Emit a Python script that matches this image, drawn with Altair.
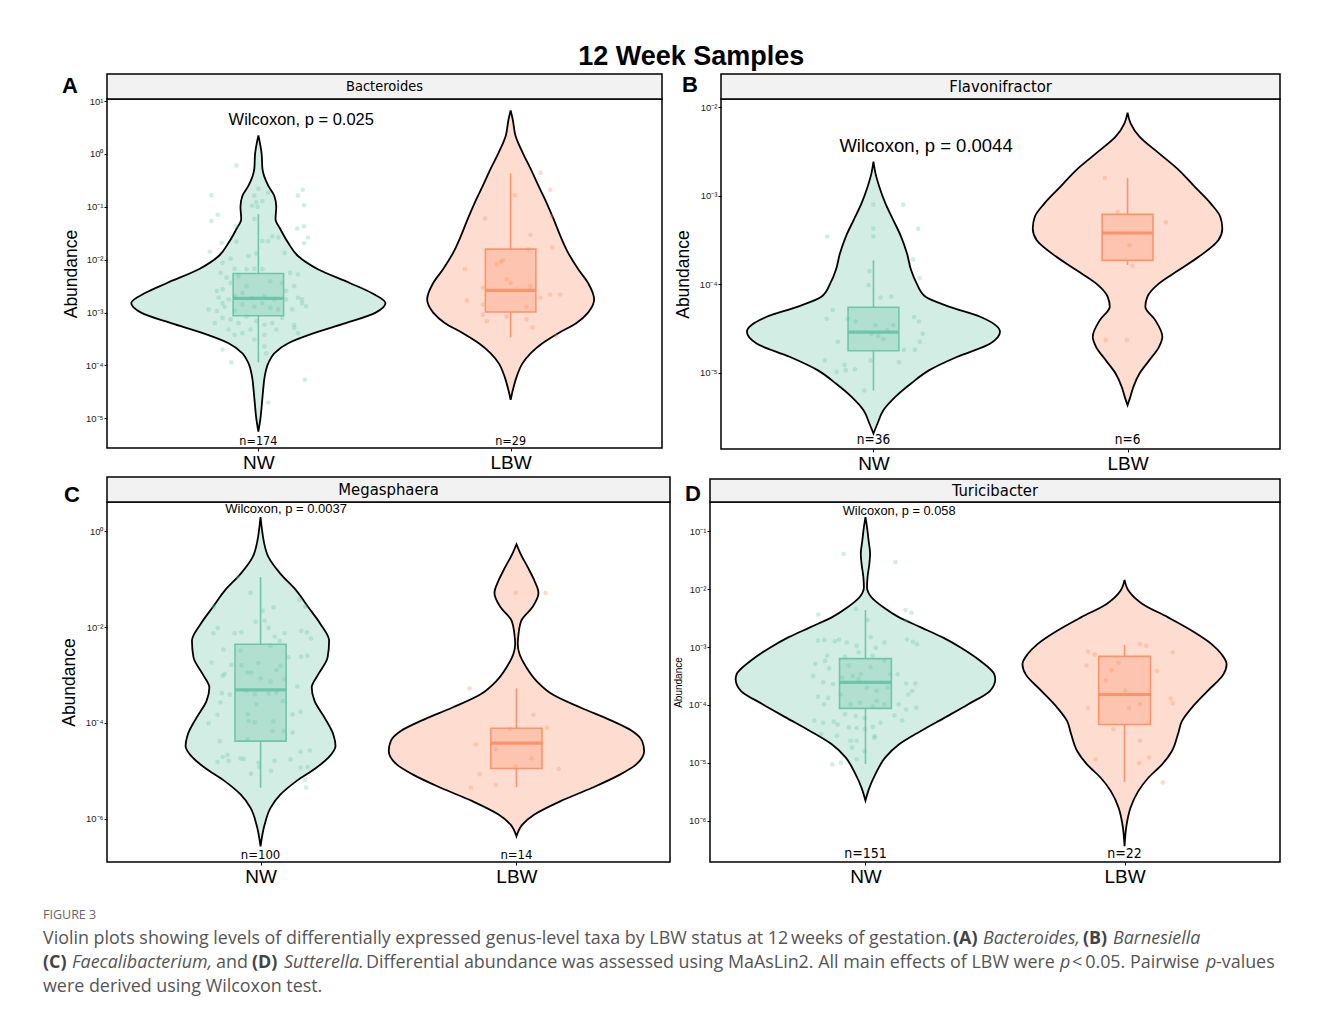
import altair as alt
import pandas as pd

# ------------------------------------------------------------------ data
TITLE = "12 Week Samples"
GROUPS = ["NW", "LBW"]
CENTER = {"NW": 1, "LBW": 2}
COLORS = ["#66c2a5", "#fc8d62"]

TAXA = {"A": "Bacteroides", "B": "Flavonifractor", "C": "Megasphaera", "D": "Turicibacter"}
PVALS = {"A": "Wilcoxon, p = 0.025", "B": "Wilcoxon, p = 0.0044",
         "C": "Wilcoxon, p = 0.0037", "D": "Wilcoxon, p = 0.058"}
PVAL_POS = {"A": (1.17, 0.633), "B": (1.207, -2.437), "C": (1.10, 0.467), "D": (1.13, -0.653)}
NLABELS = {"A": ["n=174", "n=29"], "B": ["n=36", "n=6"], "C": ["n=100", "n=14"], "D": ["n=151", "n=22"]}
NLAB_LOG = {"A": -5.42, "B": -5.76, "C": -6.746, "D": -6.578}
YDOM_LOG = {"A": (-5.56, 1.038), "B": (-5.861, -1.906), "C": (-6.899, 0.606), "D": (-6.717, -0.491)}
YTICK_EXP = {"A": [-5, -4, -3, -2, -1, 0, 1], "B": [-5, -4, -3, -2], "C": [-6, -4, -2, 0],
             "D": [-6, -5, -4, -3, -2, -1]}

# violin outlines: log10(abundance) levels and half-widths (x units)
A_NW_VLOG = [0.35, 0.0, -0.28, -0.60, -0.79, -1.0, -1.23, -1.42, -1.68, -1.93, -2.18, -2.44, -2.63, -2.82, -3.0,
             -3.2, -3.39, -3.58, -3.77, -3.96, -4.21, -4.46, -4.72, -4.97, -5.25]
A_NW_VHW = [0, 0.013, 0.016, 0.039, 0.063, 0.071, 0.068, 0.087, 0.118, 0.157, 0.236, 0.362, 0.449, 0.504, 0.465,
            0.346, 0.22, 0.118, 0.063, 0.039, 0.025, 0.019, 0.014, 0.009, 0]
A_LBW_VLOG = [0.82, 0.66, 0.35, 0.03, -0.28, -0.60, -0.92, -1.23, -1.55, -1.87, -2.18, -2.44, -2.75, -3.0, -3.2,
              -3.39, -3.58, -3.77, -3.96, -4.21, -4.46, -4.65]
A_LBW_VHW = [0, 0.008, 0.019, 0.047, 0.079, 0.110, 0.142, 0.170, 0.197, 0.228, 0.268, 0.307, 0.331, 0.307, 0.260,
             0.189, 0.126, 0.079, 0.047, 0.024, 0.009, 0]
B_NW_VLOG = [-2.614, -2.746, -2.897, -3.086, -3.274, -3.463, -3.651, -3.839, -3.99, -4.141, -4.254, -4.367, -4.537,
             -4.669, -4.819, -4.970, -5.121, -5.272, -5.423, -5.573, -5.686]
B_NW_VHW = [0, 0.008, 0.023, 0.047, 0.078, 0.109, 0.132, 0.148, 0.17, 0.205, 0.30, 0.42, 0.498, 0.46, 0.33, 0.22,
            0.148, 0.086, 0.039, 0.016, 0]
B_LBW_VLOG = [-2.060, -2.181, -2.332, -2.520, -2.709, -2.897, -3.086, -3.236, -3.368, -3.500, -3.689, -3.839,
              -3.990, -4.141, -4.254, -4.405, -4.593, -4.706, -4.857, -5.008, -5.159, -5.272, -5.366]
B_LBW_VHW = [0, 0.012, 0.047, 0.124, 0.202, 0.264, 0.327, 0.365, 0.373, 0.358, 0.280, 0.202, 0.124, 0.078, 0.070,
             0.109, 0.137, 0.124, 0.086, 0.047, 0.023, 0.011, 0]
C_NW_VLOG = [0.293, 0.014, -0.195, -0.544, -0.892, -1.240, -1.589, -1.937, -2.286, -2.634, -2.983, -3.261, -3.540,
             -3.889, -4.237, -4.481, -4.725, -4.934, -5.213, -5.491, -5.770, -6.118, -6.571]
C_NW_VHW = [0, 0.006, 0.012, 0.031, 0.078, 0.140, 0.187, 0.234, 0.268, 0.262, 0.226, 0.200, 0.211, 0.250, 0.284,
            0.293, 0.265, 0.218, 0.140, 0.078, 0.039, 0.016, 0]
C_LBW_VLOG = [-0.279, -0.474, -0.753, -1.031, -1.289, -1.589, -1.868, -2.146, -2.355, -2.564, -2.843, -3.122,
              -3.401, -3.679, -3.958, -4.167, -4.376, -4.585, -4.864, -5.073, -5.352, -5.631, -5.909, -6.118, -6.362]
C_LBW_VHW = [0, 0.016, 0.044, 0.070, 0.086, 0.062, 0.019, 0.008, 0.005, 0.012, 0.039, 0.078, 0.140, 0.250, 0.374,
             0.452, 0.491, 0.499, 0.468, 0.406, 0.296, 0.172, 0.070, 0.023, 0]
D_NW_VLOG = [-0.751, -0.925, -1.156, -1.387, -1.561, -1.792, -1.965, -2.139, -2.312, -2.486, -2.659, -2.832, -3.006,
             -3.237, -3.468, -3.555, -3.757, -3.988, -4.220, -4.451, -4.682, -4.913, -5.202, -5.434, -5.653]
D_NW_VHW = [0, 0.006, 0.012, 0.018, 0.015, 0.008, 0.006, 0.023, 0.069, 0.130, 0.214, 0.298, 0.367, 0.443, 0.497,
            0.501, 0.481, 0.397, 0.306, 0.214, 0.130, 0.076, 0.038, 0.015, 0]
D_LBW_VLOG = [-1.838, -2.023, -2.254, -2.486, -2.717, -2.948, -3.121, -3.295, -3.468, -3.757, -4.046, -4.277,
              -4.509, -4.798, -5.029, -5.260, -5.491, -5.780, -6.069, -6.445]
D_LBW_VHW = [0, 0.015, 0.069, 0.168, 0.260, 0.336, 0.374, 0.394, 0.382, 0.321, 0.260, 0.222, 0.206, 0.183, 0.145,
             0.092, 0.053, 0.023, 0.008, 0]

# box summaries (log10): whisker low, q1, median, q3, whisker high
A_NW_BOX = [-3.94, -3.06, -2.73, -2.26, -1.14]
A_LBW_BOX = [-3.47, -2.99, -2.58, -1.80, -0.37]
B_NW_BOX = [-5.20, -4.75, -4.54, -4.26, -3.73]
B_LBW_BOX = [-3.78, -3.73, -3.42, -3.21, -2.80]
C_NW_BOX = [-5.35, -4.38, -3.31, -2.36, -0.96]
C_LBW_BOX = [-5.34, -4.95, -4.42, -4.11, -3.28]
D_NW_BOX = [-5.02, -4.06, -3.61, -3.20, -2.36]
D_LBW_BOX = [-5.33, -4.34, -3.82, -3.16, -2.96]

# jittered samples: (jitter offset in x units, log10 abundance)
A_NW_PTS = [(-0.087, -0.22), (-0.186, -0.78), (-0.161, -1.15), (-0.186, -1.27), (0.0, -0.66), (-0.016, -0.79),
            (-0.008, -0.91), (-0.024, -0.98), (0.016, -0.89), (-0.003, -1.0), (0.039, -0.73), (0.157, -0.79),
            (0.176, -0.68), (0.181, -0.97), (0.154, -1.41), (0.181, -1.37), (0.197, -1.58), (0.181, -1.69),
            (-0.145, -1.68), (-0.087, -1.66), (-0.192, -1.85), (0.016, -1.65), (0.039, -1.65), (0.055, -1.56),
            (0.079, -1.58), (0.104, -1.87), (-0.142, -2.06), (-0.110, -1.98), (-0.008, -1.88), (-0.094, -2.17),
            (-0.047, -2.18), (-0.016, -2.17), (-0.150, -2.25), (-0.126, -2.34), (-0.079, -2.31), (0.016, -2.18),
            (0.126, -2.25), (0.157, -2.28), (-0.165, -2.59), (-0.142, -2.56), (-0.110, -2.44), (-0.047, -2.50),
            (0.047, -2.41), (0.094, -2.44), (0.142, -2.50), (0.110, -2.59), (-0.157, -2.72), (-0.142, -2.82),
            (-0.118, -2.75), (-0.094, -2.69), (-0.063, -2.63), (-0.024, -2.72), (0.024, -2.69), (0.063, -2.75),
            (0.110, -2.75), (0.157, -2.72), (0.173, -2.75), (0.189, -2.88), (-0.197, -2.94), (-0.165, -2.97),
            (-0.134, -2.89), (-0.094, -2.96), (-0.063, -2.85), (-0.016, -2.89), (0.016, -2.82), (0.047, -2.91),
            (0.079, -2.94), (0.134, -2.94), (0.173, -2.82), (-0.173, -3.20), (-0.142, -3.10), (-0.110, -3.13),
            (-0.079, -3.20), (-0.047, -3.07), (-0.008, -3.16), (0.024, -3.23), (0.055, -3.20), (0.094, -3.10),
            (0.142, -3.23), (0.157, -3.39), (-0.118, -3.32), (-0.094, -3.42), (-0.063, -3.39), (-0.031, -3.32),
            (0.024, -3.42), (0.071, -3.32), (0.142, -3.29), (-0.142, -3.70), (-0.016, -3.51), (0.024, -3.64),
            (0.031, -3.77), (-0.107, -3.94), (0.184, -4.27), (0.039, -4.70), (-0.087, -1.36), (-0.016, -1.23),
            (-0.039, -1.93)]
A_LBW_PTS = [(0.118, -0.36), (0.157, -0.68), (0.016, -0.78), (-0.102, -1.22), (0.162, -1.18), (0.079, -1.53),
             (0.165, -1.77), (-0.039, -2.04), (-0.031, -2.01), (-0.181, -2.18), (-0.016, -2.37), (-0.110, -2.53),
             (0.079, -2.50), (0.0, -2.44), (0.118, -2.72), (0.157, -2.66), (0.197, -2.66), (-0.173, -2.77),
             (-0.110, -2.85), (0.063, -2.89), (-0.110, -3.04), (-0.094, -3.16), (-0.016, -3.08), (0.063, -3.13),
             (0.087, -3.28), (0.181, -3.45), (-0.055, -2.09), (0.071, -1.80)]
B_NW_PTS = [(0.0, -3.10), (0.117, -3.10), (0.0, -3.37), (0.176, -3.37), (-0.182, -3.46), (0.0, -3.46),
            (0.156, -3.72), (-0.016, -3.85), (0.182, -3.93), (-0.019, -4.01), (0.028, -4.15), (0.070, -4.14),
            (-0.160, -4.29), (-0.184, -4.39), (-0.101, -4.39), (-0.070, -4.42), (0.008, -4.46), (0.078, -4.46),
            (0.160, -4.37), (0.179, -4.42), (-0.140, -4.65), (-0.008, -4.56), (0.039, -4.62), (0.054, -4.52),
            (0.019, -4.58), (0.194, -4.56), (0.182, -4.65), (-0.191, -4.86), (-0.114, -4.91), (-0.145, -4.99),
            (-0.109, -4.97), (-0.073, -4.96), (-0.011, -4.86), (0.101, -4.88), (0.120, -4.74), (0.163, -4.74),
            (-0.036, -5.20)]
B_LBW_PTS = [(-0.089, -2.80), (-0.039, -3.18), (0.151, -3.30), (0.008, -3.56), (0.019, -3.79), (-0.086, -4.63),
             (-0.003, -4.63)]
C_NW_PTS = [(-0.089, -0.96), (-0.039, -1.29), (-0.183, -1.57), (0.153, -1.43), (0.175, -1.57), (0.008, -1.66),
            (0.051, -1.59), (-0.167, -2.02), (-0.184, -2.13), (-0.101, -2.13), (-0.075, -2.11), (-0.019, -1.89),
            (0.016, -1.87), (0.031, -2.02), (0.056, -2.20), (0.075, -2.29), (0.094, -2.13), (0.159, -2.08),
            (0.181, -2.11), (0.197, -2.24), (-0.145, -2.47), (-0.078, -2.49), (0.039, -2.39), (0.109, -2.63),
            (0.183, -2.60), (0.159, -2.62), (-0.192, -2.74), (-0.114, -2.79), (-0.075, -2.80), (-0.009, -2.75),
            (0.062, -2.90), (0.078, -2.81), (-0.140, -2.98), (-0.148, -3.02), (-0.051, -2.95), (-0.036, -2.95),
            (0.0, -3.07), (0.039, -3.14), (0.094, -3.09), (0.144, -3.24), (-0.151, -3.38), (-0.120, -3.41),
            (-0.055, -3.33), (-0.023, -3.40), (0.031, -3.39), (0.062, -3.37), (-0.156, -3.57), (-0.016, -3.61),
            (0.087, -3.54), (0.156, -3.77), (-0.168, -3.83), (-0.050, -3.82), (-0.047, -3.96), (-0.023, -3.99),
            (0.050, -3.97), (0.125, -3.82), (0.090, -4.17), (-0.203, -4.01), (-0.159, -4.38), (-0.051, -4.34),
            (0.047, -4.17), (0.125, -4.20), (-0.129, -4.67), (-0.148, -4.71), (-0.078, -4.74), (-0.008, -4.83),
            (0.055, -4.79), (0.117, -4.76), (0.156, -4.60), (0.193, -4.57), (-0.168, -4.81), (-0.125, -4.79),
            (-0.066, -4.75), (-0.005, -4.92), (0.041, -5.00), (-0.037, -5.06), (0.156, -4.93), (0.184, -4.92),
            (0.175, -5.18), (0.178, -5.35)]
C_LBW_PTS = [(-0.003, -1.29), (0.114, -1.29), (-0.183, -3.28), (0.066, -3.83), (0.119, -4.10), (-0.025, -4.13),
             (-0.159, -4.45), (-0.081, -4.55), (0.059, -4.74), (-0.003, -4.91), (0.165, -4.96), (-0.144, -5.07),
             (-0.081, -5.29), (-0.178, -5.35)]
D_NW_PTS = [(-0.084, -1.39), (0.116, -1.53), (-0.182, -2.44), (-0.037, -2.34), (0.154, -2.36), (0.177, -2.41),
            (0.008, -2.53), (0.157, -2.54), (-0.183, -2.89), (-0.159, -2.88), (-0.118, -2.90), (-0.102, -2.87),
            (-0.072, -2.92), (-0.034, -2.98), (0.020, -2.83), (0.040, -3.01), (0.073, -2.92), (0.160, -2.87),
            (0.199, -2.95), (0.183, -2.91), (-0.148, -3.15), (-0.079, -3.17), (-0.026, -3.09), (0.028, -3.15),
            (0.073, -3.24), (-0.194, -3.29), (-0.156, -3.24), (-0.141, -3.37), (-0.064, -3.32), (-0.018, -3.47),
            (0.020, -3.35), (0.096, -3.47), (0.124, -3.47), (-0.202, -3.50), (-0.163, -3.61), (-0.125, -3.64),
            (-0.090, -3.53), (-0.049, -3.50), (-0.026, -3.55), (0.005, -3.70), (0.043, -3.76), (0.086, -3.70),
            (0.157, -3.63), (0.193, -3.63), (-0.183, -3.86), (-0.144, -3.88), (-0.095, -3.82), (-0.057, -3.99),
            (-0.021, -3.96), (0.043, -3.93), (0.073, -3.99), (0.165, -3.82), (0.180, -3.76), (-0.160, -3.99),
            (0.028, -4.03), (0.128, -3.99), (0.196, -4.05), (-0.197, -4.27), (-0.163, -4.31), (-0.122, -4.29),
            (-0.079, -4.16), (-0.038, -4.19), (-0.003, -4.23), (0.058, -4.31), (0.112, -4.18), (0.142, -4.27),
            (0.157, -4.08), (-0.107, -4.34), (-0.064, -4.39), (-0.034, -4.40), (0.028, -4.38), (-0.171, -4.51),
            (-0.110, -4.53), (-0.003, -4.42), (0.035, -4.54), (-0.057, -4.62), (-0.052, -4.74), (-0.034, -4.62),
            (-0.128, -5.03), (-0.095, -5.00), (-0.034, -4.94), (-0.003, -4.80), (0.035, -4.57)]
D_LBW_PTS = [(-0.141, -3.08), (-0.115, -3.13), (0.186, -3.09), (0.060, -2.95), (0.084, -2.98), (-0.023, -3.27),
             (-0.147, -3.32), (-0.050, -3.40), (0.125, -3.41), (0.003, -3.75), (0.179, -3.89), (0.186, -3.97),
             (-0.141, -4.05), (0.060, -3.99), (-0.043, -4.42), (0.060, -4.62), (-0.112, -4.94), (0.095, -4.91),
             (0.057, -5.01), (0.148, -5.34), (-0.073, -3.58), (0.018, -4.05)]

# caption: (line, text, style)
CAPTION_HEAD = "FIGURE 3"
CAPTION_SEGMENTS = [
    (1, "Violin plots showing levels of differentially expressed genus-level taxa by LBW status at 12\u2009weeks of gestation.", "normal"),
    (1, "(A)", "bold"), (1, "Bacteroides,", "italic"), (1, "(B)", "bold"), (1, "Barnesiella", "italic"),
    (2, "(C)", "bold"), (2, "Faecalibacterium,", "italic"), (2, "and", "normal"), (2, "(D)", "bold"),
    (2, "Sutterella.", "italic"),
    (2, "Differential abundance was assessed using MaAsLin2. All main effects of LBW were", "normal"),
    (2, "p", "italic"), (2, "<\u20090.05. Pairwise", "normal"), (2, "p", "italic"), (2, "-values", "normal"),
    (3, "were derived using Wilcoxon test.", "normal"),
]

VIOLINS = {
    "A": {"NW": (A_NW_VLOG, A_NW_VHW), "LBW": (A_LBW_VLOG, A_LBW_VHW)},
    "B": {"NW": (B_NW_VLOG, B_NW_VHW), "LBW": (B_LBW_VLOG, B_LBW_VHW)},
    "C": {"NW": (C_NW_VLOG, C_NW_VHW), "LBW": (C_LBW_VLOG, C_LBW_VHW)},
    "D": {"NW": (D_NW_VLOG, D_NW_VHW), "LBW": (D_LBW_VLOG, D_LBW_VHW)},
}
BOXES = {"A": {"NW": A_NW_BOX, "LBW": A_LBW_BOX}, "B": {"NW": B_NW_BOX, "LBW": B_LBW_BOX},
         "C": {"NW": C_NW_BOX, "LBW": C_LBW_BOX}, "D": {"NW": D_NW_BOX, "LBW": D_LBW_BOX}}
POINTS = {"A": {"NW": A_NW_PTS, "LBW": A_LBW_PTS}, "B": {"NW": B_NW_PTS, "LBW": B_LBW_PTS},
          "C": {"NW": C_NW_PTS, "LBW": C_LBW_PTS}, "D": {"NW": D_NW_PTS, "LBW": D_LBW_PTS}}

# ------------------------------------------------------------------ layout / style
FONT = "Liberation Sans, Arial, Helvetica, sans-serif"
NARROW = "Liberation Sans Narrow, Arial Narrow, DejaVu Sans Condensed, sans-serif"
CAPFONT = "Open Sans, Noto Sans, sans-serif"
BOX_HALF = 0.1
# x offset (px) of each caption segment from the caption view's left edge
CAP_X = [-64, 846, 876, 976, 1006, -64, -35, 109, 145, 177, 259, 953, 965, 1099, 1109, -64]

LAYOUT = {
    "A": dict(w=555, h=349, hh=25, ext=63, tx=-27, tfs=17.5, lx=-45, ly=-6, wfs=16.5, nfs=12.5, sfs=14.5),
    "B": dict(w=559, h=350, hh=25, ext=45, tx=-29, tfs=17.5, lx=-39, ly=-7, wfs=18.5, nfs=13.5, sfs=16.5),
    "C": dict(w=563, h=360, hh=25, ext=63, tx=-29, tfs=17.5, lx=-43, ly=0, wfs=13, nfs=13, sfs=16.5),
    "D": dict(w=570, h=360, hh=23, ext=36, tx=-27, tfs=10, lx=-25, ly=-1, wfs=12.8, nfs=14, sfs=16.5),
}

SUP = ("'10' + replace(replace(replace(replace(replace(replace(replace(replace("
       "toString(round(log(datum.value)/LN10)), '-', '\u207b'), '0', '\u2070'), '1', '\u00b9'), '2', '\u00b2'), "
       "'3', '\u00b3'), '4', '\u2074'), '5', '\u2075'), '6', '\u2076')")

color_scale = alt.Scale(domain=GROUPS, range=COLORS)


def panel(key):
    L = LAYOUT[key]
    W, H = L["w"], L["h"]
    lo, hi = YDOM_LOG[key]
    yscale = alt.Scale(type="log", domain=[10 ** lo, 10 ** hi], nice=False)
    xscale = alt.Scale(domain=[0.4, 2.6], nice=False, zero=False)
    xaxis = alt.Axis(values=[1, 2], labelExpr="datum.value == 1 ? 'NW' : 'LBW'", title=None, grid=False,
                     domain=False, labelFontSize=19, labelFont=FONT, labelColor="black", tickColor="black",
                     tickSize=3, labelPadding=2, minExtent=24, maxExtent=24)
    yaxis = alt.Axis(values=[10.0 ** e for e in YTICK_EXP[key]], labelExpr=SUP, title="Abundance", grid=False,
                     domain=False, labelFontSize=9.5, labelFont=FONT, labelColor="#222222", tickColor="black",
                     tickSize=3, labelPadding=1, titleFont=FONT, titleFontSize=L["tfs"], titleFontWeight="normal",
                     titleColor="black", titleX=L["tx"], titleY=H / 2, minExtent=L["ext"], maxExtent=L["ext"])

    def X(f):
        return alt.X(f, type="quantitative", scale=xscale, axis=xaxis)

    def Y(f):
        return alt.Y(f, type="quantitative", scale=yscale, axis=yaxis)

    vrows, brows, prows = [], [], []
    for g in GROUPS:
        c = CENTER[g]
        lgs, hws = VIOLINS[key][g]
        for lg, hw in zip(lgs, hws):
            vrows.append(dict(group=g, val=10 ** lg, x1=c - hw, x2=c + hw))
        b = BOXES[key][g]
        brows.append(dict(group=g, lov=10 ** b[0], q1v=10 ** b[1], medv=10 ** b[2], q3v=10 ** b[3],
                          hiv=10 ** b[4], xc=c, xl=c - BOX_HALF, xr=c + BOX_HALF))
        for dx, lg in POINTS[key][g]:
            prows.append(dict(group=g, val=10 ** lg, xj=c + dx))
    vdf, bdf, pdf = pd.DataFrame(vrows), pd.DataFrame(brows), pd.DataFrame(prows)

    fill = alt.Color("group:N", scale=color_scale, legend=None)
    stroke = alt.Stroke("group:N", scale=color_scale, legend=None)

    violin = alt.Chart(vdf).mark_area(orient="horizontal", interpolate="monotone", stroke="black",
                                      strokeWidth=1.8, fillOpacity=0.3).encode(
        y=Y("val"), x=X("x1"), x2="x2", color=fill)
    box = alt.Chart(bdf).mark_rect(fillOpacity=0.3, strokeWidth=1.6, strokeOpacity=0.9).encode(
        x=X("xl"), x2="xr", y=Y("q1v"), y2="q3v", color=fill, stroke=stroke)
    whisk_hi = alt.Chart(bdf).mark_rule(strokeWidth=1.6, opacity=0.9).encode(
        x=X("xc"), y=Y("q3v"), y2="hiv", color=fill)
    whisk_lo = alt.Chart(bdf).mark_rule(strokeWidth=1.6, opacity=0.9).encode(
        x=X("xc"), y=Y("lov"), y2="q1v", color=fill)
    median = alt.Chart(bdf).mark_rule(strokeWidth=3.2, opacity=0.9).encode(
        x=X("xl"), x2="xr", y=Y("medv"), color=fill)
    pts = alt.Chart(pdf).mark_circle(size=22, opacity=0.3).encode(x=X("xj"), y=Y("val"), color=fill)

    px, plg = PVAL_POS[key]
    wdf = pd.DataFrame({"x": [px], "val": [10 ** plg], "label": [PVALS[key]]})
    wil = alt.Chart(wdf).mark_text(font=FONT, fontSize=L["wfs"], color="black", baseline="middle").encode(
        x=X("x"), y=Y("val"), text="label:N")
    ndf = pd.DataFrame({"x": [1, 2], "val": [10 ** NLAB_LOG[key]] * 2, "label": NLABELS[key]})
    nlab = alt.Chart(ndf).mark_text(font=NARROW, fontSize=L["nfs"], color="black", baseline="middle").encode(
        x=X("x"), y=Y("val"), text="label:N")

    one = pd.DataFrame({"k": [0]})
    strip = alt.Chart(one).mark_rect(fill="#f2f2f2", stroke="black", strokeWidth=1.5).encode(
        x=alt.value(0), x2=alt.value(W), y=alt.value(-L["hh"]), y2=alt.value(0))
    strip_txt = alt.Chart(one).mark_text(text=TAXA[key], font=NARROW, fontSize=L["sfs"], color="black",
                                         baseline="middle").encode(
        x=alt.value(W / 2), y=alt.value(-L["hh"] / 2))
    letter = alt.Chart(one).mark_text(text=key, font=FONT, fontSize=22, fontWeight="bold", color="black",
                                      align="left", baseline="alphabetic").encode(
        x=alt.value(L["lx"]), y=alt.value(L["ly"]))

    return alt.layer(violin, box, whisk_hi, whisk_lo, median, pts, wil, nlab, strip, strip_txt, letter).properties(
        width=W, height=H)


row1 = alt.hconcat(panel("A"), panel("B"), spacing=9)
row2 = alt.hconcat(panel("C"), panel("D"), spacing=0)

# caption
cap_y = alt.Y("row:Q", scale=alt.Scale(domain=[-1.125, 3], reverse=True, nice=False, zero=False), axis=None)
cap_layers = [alt.Chart(pd.DataFrame({"row": [0], "text": [CAPTION_HEAD]})).mark_text(
    align="left", baseline="middle", font=CAPFONT, fontSize=12.5, color="#666666").encode(
    x=alt.value(CAP_X[0]), y=cap_y, text="text:N")]
for (line, txt, style), xpos in zip(CAPTION_SEGMENTS, CAP_X):
    kw = dict(align="left", baseline="middle", font=CAPFONT, fontSize=17.9, color="#555555")
    if style == "bold":
        kw.update(fontWeight="bold", color="#444444")
    elif style == "italic":
        kw.update(fontStyle="italic")
    cap_layers.append(alt.Chart(pd.DataFrame({"row": [line], "text": [txt]})).mark_text(**kw).encode(
        x=alt.value(xpos), y=cap_y, text="text:N"))
caption = alt.layer(*cap_layers).properties(width=1170, height=99, view=alt.ViewBackground(strokeOpacity=0))

chart = alt.vconcat(row1, row2, caption, spacing=1).properties(
    title=alt.TitleParams(TITLE, font=FONT, fontSize=27, fontWeight="bold", color="black", anchor="middle",
                          dx=29, offset=2),
    padding={"left": 35, "top": 34, "right": 5, "bottom": 2},
).configure_view(stroke="black", strokeWidth=1.5)

chart.save("out.html", embed_options={"renderer": "svg", "actions": False})
